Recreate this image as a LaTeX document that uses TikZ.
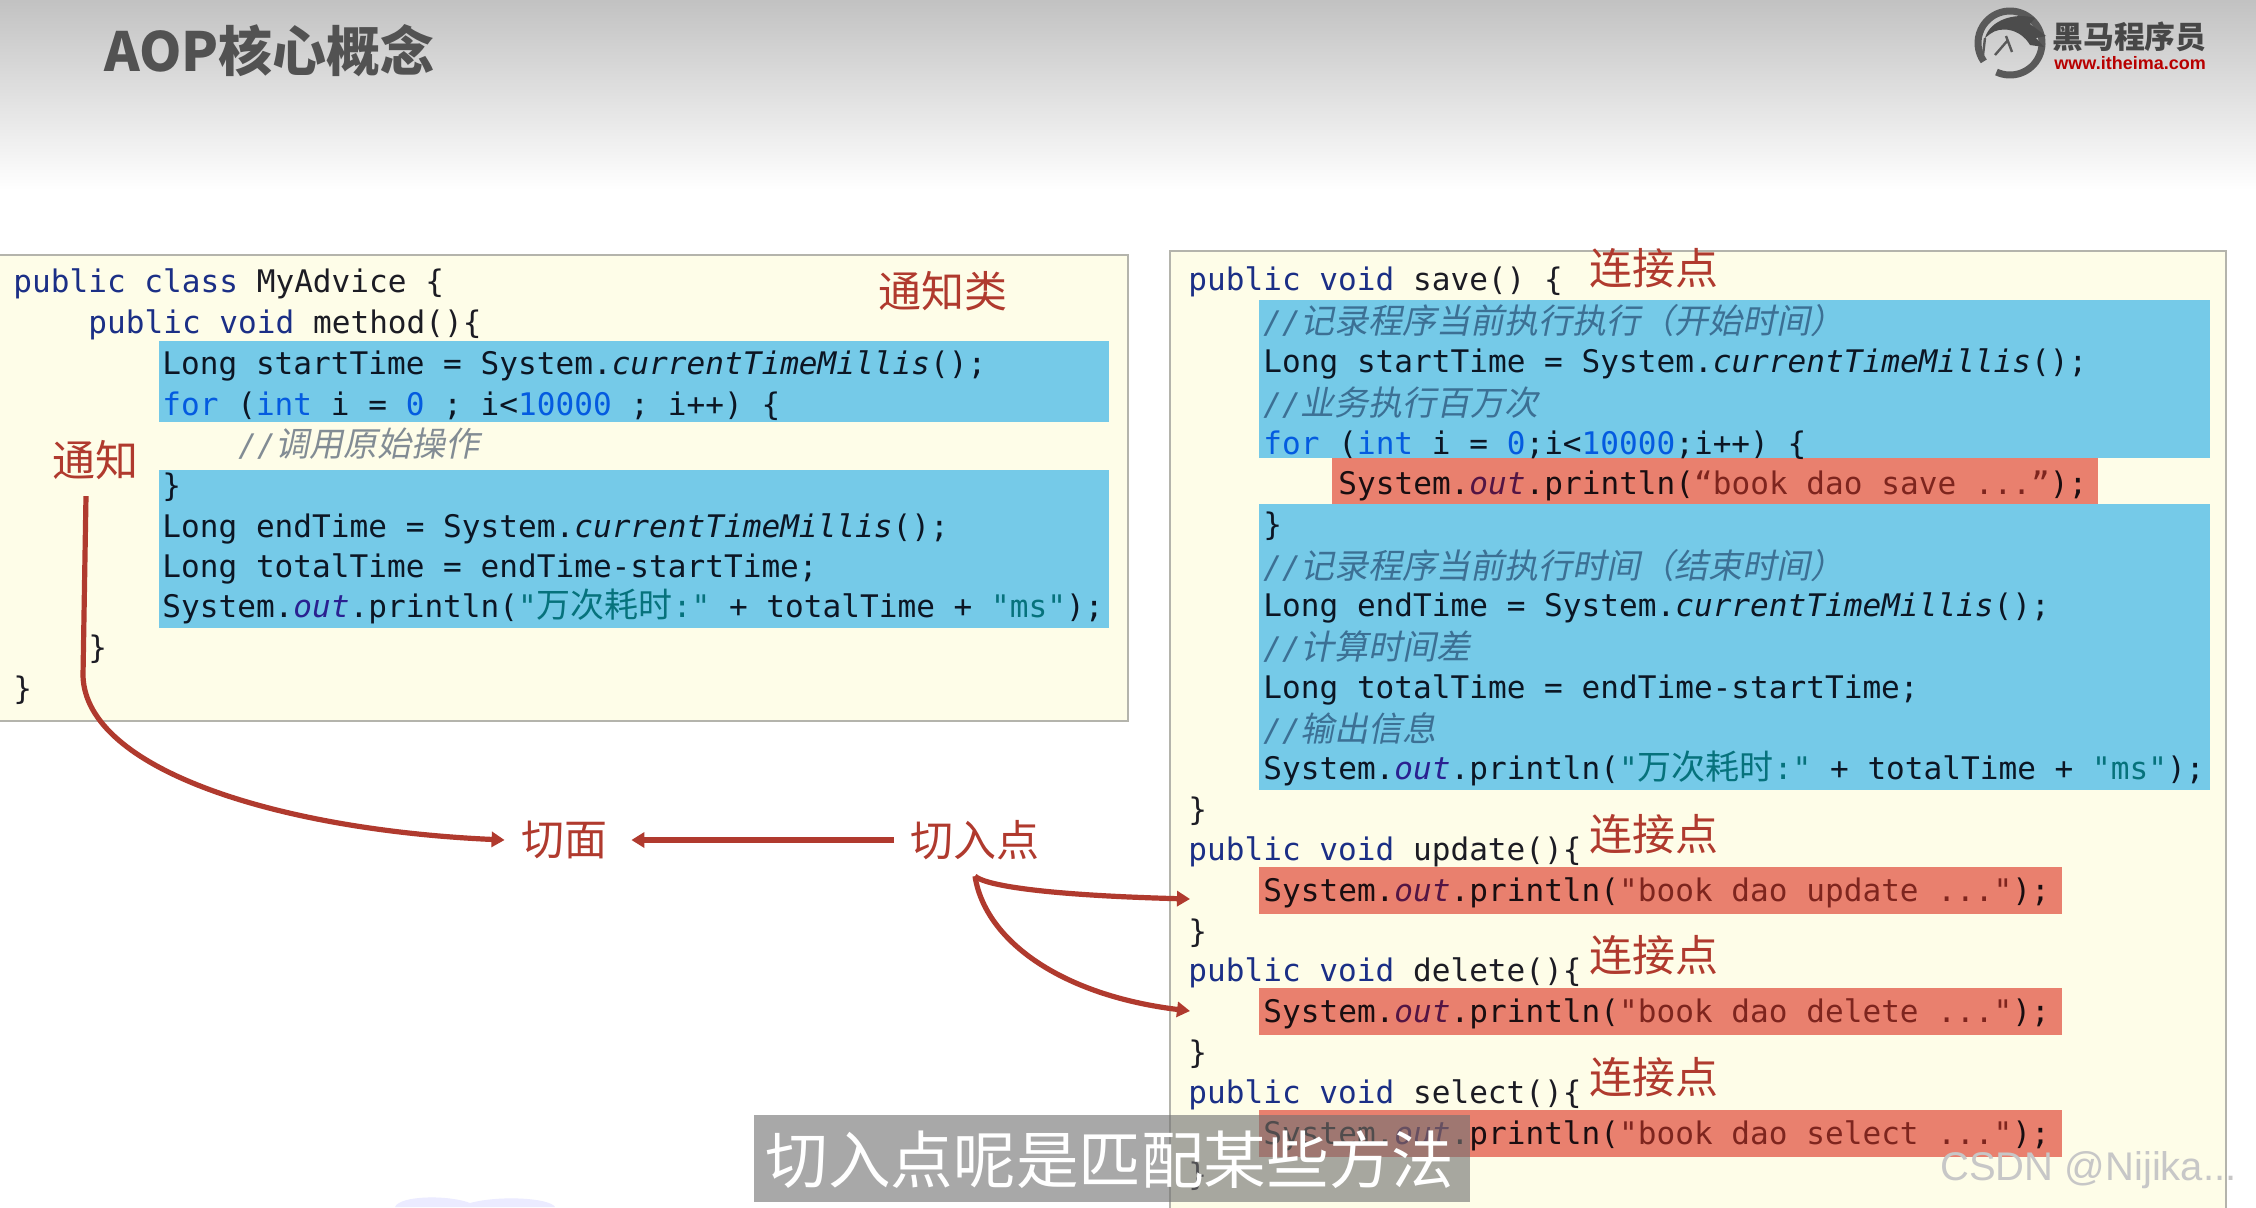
\documentclass[tikz,border=0pt]{standalone}
\usepackage{fontspec}
\usepackage{xcolor}
\usetikzlibrary{positioning,arrows.meta,calc}
\newfontfamily\cjk{Noto Sans CJK SC}
\newfontfamily\cjkit[FakeSlant=0.2]{Noto Sans CJK SC}
\newfontfamily\codefont{DejaVu Sans Mono}
\newfontfamily\webfont{Liberation Sans}
\definecolor{panel}{HTML}{FEFDE8}
\definecolor{panelline}{HTML}{B4B4AC}
\definecolor{hlblue}{HTML}{76CCFF}
\definecolor{hlred}{HTML}{EA827A}
\definecolor{note}{HTML}{B03A2E}
\definecolor{kwblue}{HTML}{1B2F86}
\definecolor{numblue}{HTML}{0A72E0}
\definecolor{strgreen}{HTML}{0E8F7C}
\definecolor{strbrown}{HTML}{8A4A40}
\definecolor{outpurple}{HTML}{5B2A90}
\definecolor{cmt}{HTML}{828C94}
\definecolor{ink}{HTML}{1C1C24}
\newcommand\kw[1]{\textcolor{kwblue}{#1}}
\newcommand\num[1]{\textcolor{numblue}{#1}}
\newcommand\cmtline[1]{\textcolor{cmt}{\itshape//{\cjkit\fontsize{17}{15.5}\selectfont #1}}}
\newcommand\outf{\textcolor{outpurple}{\itshape out}}
\newcommand\millis{\textit{currentTimeMillis}}
\newcommand\wanci{\textcolor{strgreen}{"{\cjk\fontsize{17}{15.5}\selectfont 万次耗时}:"}}
\begin{document}
\begin{tikzpicture}[x=0.5pt,y=-0.5pt,
    codeline/.style={anchor=base west, inner sep=0pt, text=ink,
      font=\codefont\fontsize{15.55}{15.55}\selectfont},
    panelbox/.style={draw=panelline, line width=1pt, fill=panel},
    bluebar/.style={fill=hlblue, blend mode=multiply},
    redbar/.style={fill=hlred, blend mode=multiply},
    notelabel/.style={text=note, inner sep=8pt,
      font=\cjk\fontsize{21.5}{21.5}\selectfont},
    flow/.style={draw=note, line width=2.6pt, -{Triangle[length=6.5pt,width=7.5pt]}}]
  \useasboundingbox (0,0) rectangle (2256,1207);
  \fill[white] (0,0) rectangle (2256,1207);
  \shade[top color=black!24, bottom color=white] (0,0) rectangle (2256,190);
  \fill[blue!8] (395,1207) .. controls (400,1195) and (450,1195) .. (470,1203)
     .. controls (500,1195) and (550,1198) .. (555,1207) -- cycle;
  \node[anchor=base west, inner sep=0pt, text=black!68,
        font=\cjk\bfseries\fontsize{27}{27}\selectfont] (title) at (104,71) {AOP核心概念};
  \draw[black!65, line width=3.5pt] (2010,43) ++(115:32) arc (115:-215:32);
  \fill[black!70] (1985,38) .. controls (1990,20) and (2015,12) .. (2035,18)
     -- (2030,24) -- (2046,36) -- (2036,38) -- (2044,47) -- (2030,45)
     .. controls (2020,28) and (2000,26) .. (1990,34) -- cycle;
  \draw[black!65, line width=1.2pt] (1985,38) -- (1983,55) (2006,36) -- (2012,52)
     (2008,40) -- (1995,55);
  \node[anchor=west, inner sep=0pt, text=black!72,
        font=\cjk\bfseries\fontsize{15.4}{15.4}\selectfont] (logoname) at (2052,37) {黑马程序员};
  \node[anchor=west, inner sep=0pt, text=red!72!black,
        font=\webfont\bfseries\fontsize{9}{9}\selectfont] (logoweb) at (2054,63) {www.itheima.com};
  \draw[panelbox] (-2,255) rectangle (1128,721);
  \draw[panelbox] (1170,251) rectangle (2226,1215);

  \node[codeline] (a1) at (13,292) {\kw{public class} MyAdvice \{};
  \node[codeline] (a2) at (88,333) {\kw{public void} method()\{};
  \node[codeline] (a3) at (162,374) {Long startTime = System.\millis();};
  \node[codeline] (a4) at (162,415) {\textcolor{numblue}{for} (\textcolor{numblue}{int} i = \num{0} ; i<\num{10000} ; i++) \{};
  \node[codeline] (a5) at (238,456) {\cmtline{调用原始操作}};
  \node[codeline] (a6) at (162,496) {\}};
  \node[codeline] (a7) at (162,537) {Long endTime = System.\millis();};
  \node[codeline] (a8) at (162,577) {Long totalTime = endTime-startTime;};
  \node[codeline] (a9) at (162,617) {System.\outf.println(\wanci{} + totalTime + \textcolor{strgreen}{"ms"});};
  \node[codeline] (a10) at (88,658) {\}};
  \node[codeline] (a11) at (13,699) {\}};

  \node[codeline] (b1) at (1188,290) {\kw{public void} save() \{};
  \node[codeline] (b2) at (1263,333) {\cmtline{记录程序当前执行执行（开始时间）}};
  \node[codeline] (b3) at (1263,372) {Long startTime = System.\millis();};
  \node[codeline] (b4) at (1263,415) {\cmtline{业务执行百万次}};
  \node[codeline] (b5) at (1263,454) {\textcolor{numblue}{for} (\textcolor{numblue}{int} i = \num{0};i<\num{10000};i++) \{};
  \node[codeline] (b6) at (1338,494) {System.\outf.println(\textcolor{strbrown}{“book dao save ...”});};
  \node[codeline] (b7) at (1263,535) {\}};
  \node[codeline] (b8) at (1263,578) {\cmtline{记录程序当前执行时间（结束时间）}};
  \node[codeline] (b9) at (1263,616) {Long endTime = System.\millis();};
  \node[codeline] (b10) at (1263,659) {\cmtline{计算时间差}};
  \node[codeline] (b11) at (1263,698) {Long totalTime = endTime-startTime;};
  \node[codeline] (b12) at (1263,741) {\cmtline{输出信息}};
  \node[codeline] (b13) at (1263,779) {System.\outf.println(\wanci{} + totalTime + \textcolor{strgreen}{"ms"});};
  \node[codeline] (b14) at (1188,820) {\}};

  \foreach \mth/\yy in {update/860,delete/981,select/1103}{
    \node[codeline] (\mth-head) at (1188,\yy) {\kw{public void} \mth()\{};
    \node[codeline] (\mth-body) at (1263,\yy+41) {System.\outf.println(\textcolor{strbrown}{"book dao \mth{} ..."});};
    \node[codeline] (\mth-end) at (1188,\yy+82) {\}};
    \fill[redbar] (1259,\yy+7) rectangle (2062,\yy+54);
    \node[notelabel] (\mth-point) at (1654,\yy-26) {连接点};
  }

  \fill[bluebar] (159,341) rectangle (1109,422);
  \fill[bluebar] (159,470) rectangle (1109,628);
  \fill[bluebar] (1259,300) rectangle (2210,458);
  \fill[bluebar] (1259,504) rectangle (2210,790);
  \fill[redbar] (1332,458) rectangle (2098,504);

  \node[notelabel] (advclass) at (943,291) {通知类};
  \node[notelabel] (savepoint) at (1654,268) {连接点};
  \node[notelabel] (advice) at (96,460) {通知};
  \node[notelabel] (aspect) at (564,840) {切面};
  \node[notelabel] (pointcut) at (975,840) {切入点};
  \coordinate (updatein) at (1190,899);
  \coordinate (deletein) at (1190,1011);

  \draw[flow] ([xshift=-5pt]advice.south) -- (83,676)
     .. controls (86,770) and (280,830) .. (aspect.west);
  \draw[flow, shorten >=4pt] (pointcut) -- (aspect);
  \draw[flow] (pointcut.south) .. controls (985,885) and (1040,895) .. (updatein);
  \draw[flow] (pointcut.south) .. controls (985,940) and (1060,995) .. (deletein);

  \fill[black!55, opacity=.62] (754,1115) rectangle (1470,1202);
  \node[inner sep=0pt, text=white, font=\cjk\fontsize{31.3}{31.3}\selectfont] (subtitle) at (1110,1160) {切入点呢是匹配某些方法};
  \node[anchor=west, inner sep=0pt, text=black!22, font=\webfont\fontsize{20}{20}\selectfont] (watermark) at (1940,1170) {CSDN @Nijika...};
\end{tikzpicture}
\end{document}
